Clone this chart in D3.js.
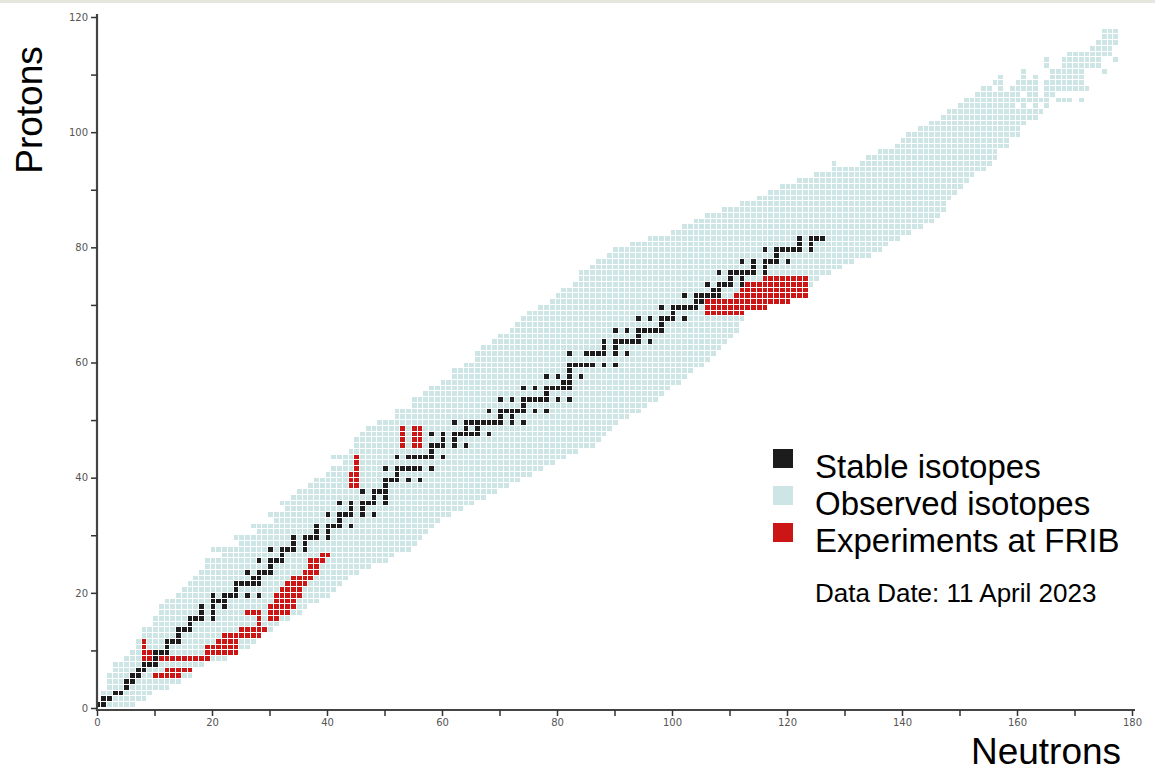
<!DOCTYPE html>
<html>
<head>
<meta charset="utf-8">
<script src="https://cdn.jsdelivr.net/npm/d3@7"></script>
<style>
  body { margin: 0; background: #fff; }
  svg { display: block; font-family: "Liberation Sans", Arial, sans-serif; }
</style>
</head>
<body>
<script>
// observed isotopes, one row per proton number: [Z, first N, last N]
var observedRows = [
  [1,0,6],[2,1,8],[3,1,9],[4,2,12],[5,2,14],[6,2,16],[7,3,16],[8,3,18],[9,5,22],[10,6,24],
  [11,7,26],[12,7,27],[13,8,28],[14,8,30],[15,10,31],[16,10,33],[17,11,35],[18,11,36],[19,12,38],[20,14,40],
  [21,15,41],[22,16,42],[23,17,43],[24,18,45],[25,19,47],[26,19,50],[27,22,51],[28,20,54],[29,25,55],[30,24,56],
  [31,28,57],[32,27,58],[33,31,59],[34,30,61],[35,33,63],[36,32,65],[37,34,67],[38,35,69],[39,37,71],[40,38,73],
  [41,40,75],[42,41,77],[43,43,79],[44,41,81],[45,44,83],[46,45,86],[47,45,87],[48,46,88],[49,47,89],[50,49,90],
  [51,52,92],[52,52,94],[53,55,95],[54,55,97],[55,57,98],[56,58,99],[57,60,101],[58,62,102],[59,62,103],[60,64,105],
  [61,66,106],[62,66,107],[63,67,108],[64,69,109],[65,70,110],[66,72,111],[67,73,111],[68,74,112],[69,75,112],[70,77,116],
  [71,79,120],[72,80,123],[73,81,123],[74,83,124],[75,84,125],[76,84,127],[77,86,129],[78,87,131],[79,89,134],[80,90,136],
  [81,93,137],[82,96,139],[83,100,141],[84,102,143],[85,104,145],[86,106,146],[87,109,147],[88,112,147],[89,115,148],[90,117,149],
  [91,119,150],[92,122,151],[93,125,152],[94,128,154],[95,128,128],[95,133,155],[96,134,156],[97,136,156],[98,139,158],[99,140,158],
  [100,141,160],[101,143,160],[102,145,161],[103,147,163],[104,148,164],
  [105,150,159],[105,161,161],[105,163,163],[105,165,165],
  [106,151,161],[106,162,165],[106,167,169],[106,171,171],
  [107,153,160],[107,162,163],[107,165,166],
  [108,154,155],[108,157,157],[108,159,163],[108,165,172],
  [109,156,157],[109,160,163],[109,165,171],
  [110,157,157],[110,161,161],[110,163,163],[110,166,171],
  [111,161,161],[111,166,171],[111,175,175],
  [112,165,165],[112,168,174],
  [113,165,165],[113,168,174],[113,177,177],
  [114,169,176],[115,173,176],[116,174,177],[117,175,177],[118,175,177]
];

// stable isotopes: [Z, neutron numbers]
var stableIsotopes = [
  [1,[0,1]],[2,[1,2]],[3,[3,4]],[4,[5]],[5,[5,6]],[6,[6,7]],[7,[7,8]],[8,[8,9,10]],[9,[10]],[10,[10,11,12]],
  [11,[12]],[12,[12,13,14]],[13,[14]],[14,[14,15,16]],[15,[16]],[16,[16,17,18,20]],[17,[18,20]],[18,[18,20,22]],
  [19,[20,21,22]],[20,[20,22,23,24,26,28]],[21,[24]],[22,[24,25,26,27,28]],[23,[27,28]],[24,[26,28,29,30]],
  [25,[30]],[26,[28,30,31,32]],[27,[32]],[28,[30,32,33,34,36]],[29,[34,36]],[30,[34,36,37,38,40]],
  [31,[38,40]],[32,[38,40,41,42,44]],[33,[42]],[34,[40,42,43,44,46,48]],[35,[44,46]],[36,[42,44,46,47,48,50]],
  [37,[48,50]],[38,[46,48,49,50]],[39,[50]],[40,[50,51,52,54,56]],[41,[52]],[42,[50,52,53,54,55,56,58]],
  [44,[52,54,55,56,57,58,60]],[45,[58]],[46,[56,58,59,60,62,64]],[47,[60,62]],[48,[58,60,62,63,64,65,66,68]],
  [49,[64,66]],[50,[62,64,65,66,67,68,69,70,72,74]],[51,[70,72]],[52,[68,70,71,72,73,74,76,78]],[53,[74]],
  [54,[70,72,74,75,76,77,78,80,82]],[55,[78]],[56,[74,76,78,79,80,81,82]],[57,[81,82]],[58,[78,80,82,84]],
  [59,[82]],[60,[82,83,84,85,86,88,90]],[62,[82,85,86,87,88,90,92]],[63,[88,90]],[64,[88,90,91,92,93,94,96]],
  [65,[94]],[66,[90,92,94,95,96,97,98]],[67,[98]],[68,[94,96,98,99,100,102]],[69,[100]],
  [70,[98,100,101,102,103,104,106]],[71,[104,105]],[72,[102,104,105,106,107,108]],[73,[107,108]],
  [74,[106,108,109,110,112]],[75,[110,112]],[76,[108,110,111,112,113,114,116]],[77,[114,116]],
  [78,[112,114,116,117,118,120]],[79,[118]],[80,[116,118,119,120,121,122,124]],[81,[122,124]],[82,[122,124,125,126]]
];

// experiments at FRIB: [Z, first N, last N]
var fribRows = [
  [6,10,14],[7,12,16],[9,8,9],[9,11,19],[10,8,9],[11,8,8],[12,8,8],
  [10,19,20],[11,19,20],[10,21,24],[11,21,24],[12,21,24],[13,22,28],[14,25,29],
  [15,28,28],[16,28,28],[17,26,28],
  [16,30,31],[17,30,33],[18,30,34],[19,31,34],[20,31,35],[21,32,35],[22,33,36],[23,34,37],
  [24,36,38],[25,37,38],[26,37,39],[27,39,40],
  [39,44,45],[40,44,45],[41,44,45],[42,45,45],[43,45,45],[44,45,45],
  [46,53,53],[47,53,53],[48,53,53],[49,53,53],[46,55,56],[47,55,56],[48,55,56],[49,55,56],
  [69,106,112],[70,106,116],[71,106,120],[72,111,123],[73,112,123],[74,113,123],[75,116,123]
];

var xTicks = [0,10,20,30,40,50,60,70,80,90,100,110,120,130,140,150,160,170,180];
var xLabels = [0,20,40,60,80,100,120,140,160,180];
var yTicks = [0,10,20,30,40,50,60,70,80,90,100,110,120];
var yLabels = [0,20,40,60,80,100,120];
var legendLabels = ["Stable isotopes", "Observed isotopes", "Experiments at FRIB"];
var dataDate = "Data Date: 11 April 2023";

var W = 1155, H = 773;
var colStable = "#1c1c1c", colObserved = "#cde5e5", colFrib = "#cc1616";

var svg = d3.select("body").append("svg").attr("width", W).attr("height", H);

// thin grey strip along the top edge
svg.append("rect").attr("x", 0).attr("y", 0).attr("width", W).attr("height", 3).attr("fill", "#e6e6de");

var x = d3.scaleLinear().domain([0, 180]).range([97, 1132]);
var y = d3.scaleLinear().domain([0, 120]).range([708, 17]);
var cw = x(1) - x(0) - 1;
var ch = y(0) - y(1) - 1;

function rowsToCells(rows) {
  var out = [];
  rows.forEach(function (r) {
    for (var n = r[1]; n <= r[2]; n++) out.push({ n: n, z: r[0] });
  });
  return out;
}
var observedCells = rowsToCells(observedRows);
var stableCells = [];
stableIsotopes.forEach(function (s) {
  s[1].forEach(function (n) { stableCells.push({ n: n, z: s[0] }); });
});
var fribCells = rowsToCells(fribRows);

function drawCells(cells, color) {
  svg.append("g")
    .selectAll("rect")
    .data(cells)
    .join("rect")
    .attr("x", function (d) { return x(d.n - 0.25); })
    .attr("y", function (d) { return y(d.z); })
    .attr("width", cw)
    .attr("height", ch)
    .attr("fill", color)
    .attr("shape-rendering", "crispEdges");
}
drawCells(observedCells, colObserved);
drawCells(stableCells, colStable);
drawCells(fribCells, colFrib);

// axes
var xAxis = svg.append("g")
  .attr("transform", "translate(0,710)")
  .call(d3.axisBottom(x).tickValues(xTicks).tickSize(6).tickSizeOuter(0)
    .tickFormat(function (d) { return xLabels.indexOf(d) >= 0 ? d : ""; }));
var yAxis = svg.append("g")
  .attr("transform", "translate(97,0)")
  .call(d3.axisLeft(y).tickValues(yTicks).tickSize(6).tickSizeOuter(0)
    .tickFormat(function (d) { return yLabels.indexOf(d) >= 0 ? d : ""; }));
[xAxis, yAxis].forEach(function (a) {
  a.select(".domain").attr("stroke", "#444").attr("stroke-width", 2.2);
  a.selectAll(".tick line").attr("stroke", "#333").attr("stroke-width", 1.5);
  a.selectAll(".tick text").attr("fill", "#555").style("font-size", "10px")
    .style("font-family", "'DejaVu Sans', sans-serif");
});
xAxis.select(".domain").attr("d", "M97,0H1135");
yAxis.select(".domain").attr("d", "M0,14V711");

// axis titles
svg.append("text")
  .attr("transform", "translate(42,110) rotate(-90)")
  .attr("text-anchor", "middle")
  .style("font-size", "37px")
  .attr("fill", "#000")
  .text("Protons");
svg.append("text")
  .attr("x", 1046).attr("y", 764)
  .attr("text-anchor", "middle")
  .style("font-size", "37px")
  .attr("fill", "#000")
  .text("Neutrons");

// legend
var legendColors = [colStable, colObserved, colFrib];
var legend = svg.append("g").attr("transform", "translate(773,449)");
legendLabels.forEach(function (lab, i) {
  legend.append("rect")
    .attr("x", 0).attr("y", i * 37)
    .attr("width", 20).attr("height", 19)
    .attr("fill", legendColors[i]);
  legend.append("text")
    .attr("x", 42).attr("y", i * 37 + 29)
    .style("font-size", "33px")
    .attr("fill", "#000")
    .text(lab);
});
svg.append("text")
  .attr("x", 815).attr("y", 602)
  .style("font-size", "26px")
  .attr("fill", "#000")
  .text(dataDate);
</script>
</body>
</html>
